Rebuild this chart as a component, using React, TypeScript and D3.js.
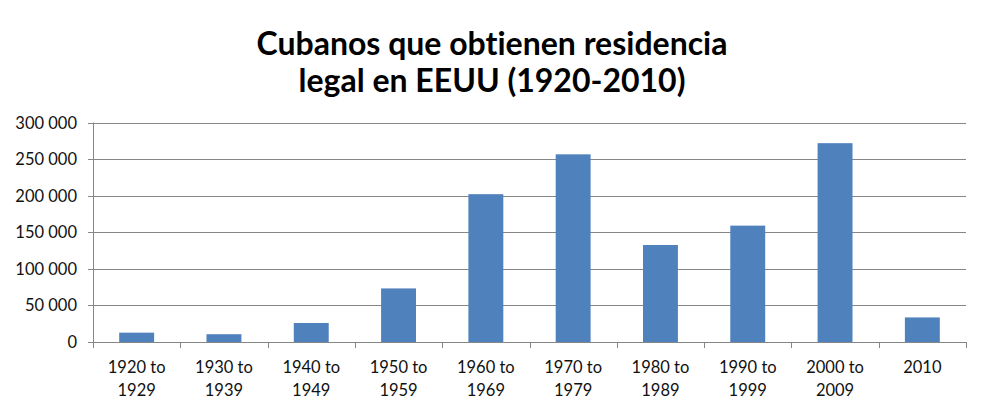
import React from 'react';
import * as d3 from 'd3';

// decades and legal residence grants (Cubans)
const categories = [
  ['1920 to', '1929'],
  ['1930 to', '1939'],
  ['1940 to', '1949'],
  ['1950 to', '1959'],
  ['1960 to', '1969'],
  ['1970 to', '1979'],
  ['1980 to', '1989'],
  ['1990 to', '1999'],
  ['2000 to', '2009'],
  ['2010'],
];
const values = [12769, 10641, 25976, 73221, 202030, 256497, 132552, 159037, 271742, 33573];
const yTicks = [0, 50000, 100000, 150000, 200000, 250000, 300000];
const titleLines = ['Cubanos que obtienen residencia', 'legal en EEUU (1920-2010)'];

const W = 988;
const H = 414;
const margin = { top: 122.5, right: 22, bottom: 72, left: 93 };

const fmt = (v: number) => {
  const s = String(v);
  return s.length > 3 ? s.slice(0, -3) + ' ' + s.slice(-3) : s;
};

const App = () => {
  const x = d3
    .scaleBand<number>()
    .domain(d3.range(values.length))
    .range([margin.left, W - margin.right])
    .paddingInner(0.6)
    .paddingOuter(0.3);

  const y = d3
    .scaleLinear()
    .domain([0, 300000])
    .range([H - margin.bottom, margin.top]);

  const bandLeft = (i: number) => margin.left + i * ((W - margin.right - margin.left) / values.length);
  const grid = '#868686';
  const font = 'Lato, "Open Sans", sans-serif';

  return (
    <svg width={W} height={H} style={{ position: 'absolute', left: 0, top: 0, background: '#fff', fontVariantLigatures: 'none' }}>
      {/* title */}
      <g fontFamily={font} fontWeight={700} fontSize={32} textAnchor="middle" fill="#000">
        {titleLines.map((t, i) => (
          <text key={i} x={492} y={55 + i * 37}>{t}</text>
        ))}
      </g>

      {/* gridlines + y labels */}
      <g fontFamily={font} fontSize={16.5} fill="#111">
        {yTicks.map((t) => (
          <g key={t}>
            <line x1={margin.left - 5} x2={W - margin.right} y1={Math.round(y(t)) + 0.5} y2={Math.round(y(t)) + 0.5} stroke={grid} strokeWidth={1} />
            <text x={77} y={y(t) + 6} textAnchor="end">{fmt(t)}</text>
          </g>
        ))}
      </g>

      {/* bars */}
      {values.map((v, i) => (
        <rect key={i} x={x(i)} y={y(v)} width={x.bandwidth()} height={y(0) - y(v)} fill="#4F81BD" />
      ))}

      {/* axes */}
      <line x1={margin.left + 0.5} x2={margin.left + 0.5} y1={margin.top} y2={y(0) + 6} stroke={grid} />
      {d3.range(values.length + 1).map((i) => (
        <line key={i} x1={Math.round(bandLeft(i)) + 0.5} x2={Math.round(bandLeft(i)) + 0.5} y1={y(0)} y2={y(0) + 6} stroke={grid} />
      ))}

      {/* x labels */}
      <g fontFamily={font} fontSize={16.5} textAnchor="middle" fill="#111">
        {categories.map((c, i) => (
          <text key={i} x={(x(i) ?? 0) + x.bandwidth() / 2}>
            {c.map((line, j) => (
              <tspan key={j} x={(x(i) ?? 0) + x.bandwidth() / 2} y={373 + j * 23}>{line}</tspan>
            ))}
          </text>
        ))}
      </g>
    </svg>
  );
};

export default App;
